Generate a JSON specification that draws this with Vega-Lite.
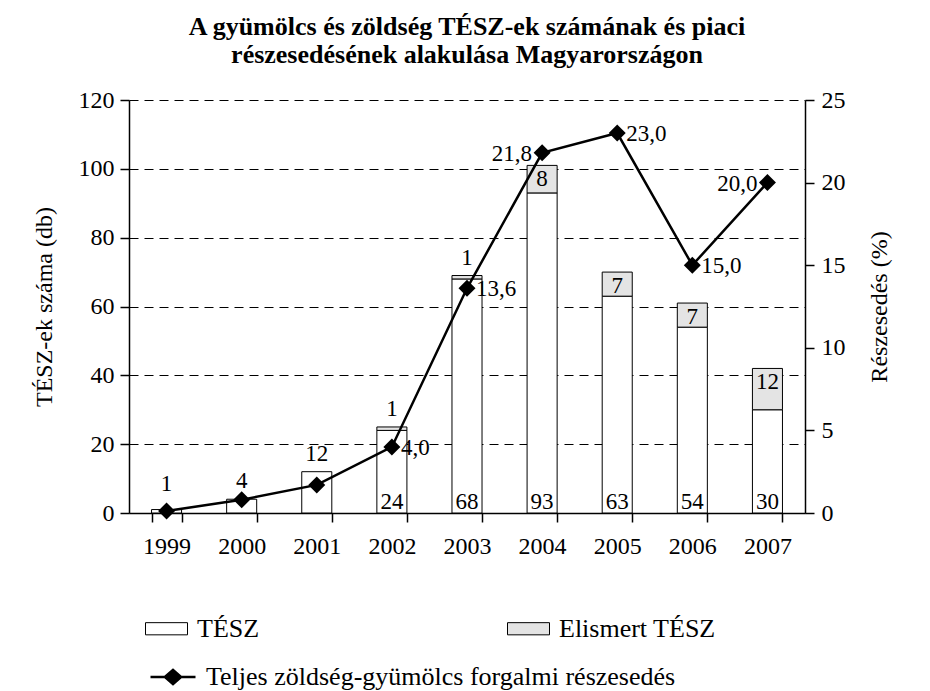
{
  "$schema": "https://vega.github.io/schema/vega-lite/v6.json",
  "autosize": {"type": "none"},
  "width": 676,
  "height": 413,
  "padding": {"left": 129, "top": 100, "right": 125, "bottom": 178},
  "background": "white",
  "title": {
    "text": ["A gyümölcs és zöldség TÉSZ-ek számának és piaci", "részesedésének alakulása Magyarországon"],
    "font": "Liberation Serif",
    "fontSize": 26,
    "fontWeight": "bold",
    "lineHeight": 28,
    "anchor": "middle",
    "offset": 20,
    "color": "black"
  },
  "config": {
    "font": "Liberation Serif",
    "view": {"stroke": null},
    "locale": {"number": {"decimal": ",", "thousands": " ", "grouping": [3], "currency": ["", " Ft"]}},
    "text": {"font": "Liberation Serif", "fontSize": 23, "color": "black"},
    "axis": {
      "labelFont": "Liberation Serif",
      "labelFontSize": 24,
      "labelColor": "black",
      "titleFont": "Liberation Serif",
      "titleFontSize": 24,
      "titleFontWeight": "normal",
      "titleColor": "black",
      "domainColor": "black",
      "domainWidth": 1.5,
      "tickColor": "black",
      "tickWidth": 1.5,
      "tickSize": 9
    },
    "legend": {
      "labelFont": "Liberation Serif",
      "labelFontSize": 26,
      "labelColor": "black",
      "labelLimit": 700,
      "padding": 0
    }
  },
  "datasets": {
    "bars": [
      {"ev": "1999", "tipus": "TÉSZ", "db": 1},
      {"ev": "2000", "tipus": "TÉSZ", "db": 4},
      {"ev": "2001", "tipus": "TÉSZ", "db": 12},
      {"ev": "2002", "tipus": "TÉSZ", "db": 24},
      {"ev": "2002", "tipus": "Elismert TÉSZ", "db": 1},
      {"ev": "2003", "tipus": "TÉSZ", "db": 68},
      {"ev": "2003", "tipus": "Elismert TÉSZ", "db": 1},
      {"ev": "2004", "tipus": "TÉSZ", "db": 93},
      {"ev": "2004", "tipus": "Elismert TÉSZ", "db": 8},
      {"ev": "2005", "tipus": "TÉSZ", "db": 63},
      {"ev": "2005", "tipus": "Elismert TÉSZ", "db": 7},
      {"ev": "2006", "tipus": "TÉSZ", "db": 54},
      {"ev": "2006", "tipus": "Elismert TÉSZ", "db": 7},
      {"ev": "2007", "tipus": "TÉSZ", "db": 30},
      {"ev": "2007", "tipus": "Elismert TÉSZ", "db": 12}
    ],
    "line": [
      {"ev": "1999", "reszesedes": 0.12},
      {"ev": "2000", "reszesedes": 0.8},
      {"ev": "2001", "reszesedes": 1.7},
      {"ev": "2002", "reszesedes": 4.0},
      {"ev": "2003", "reszesedes": 13.6},
      {"ev": "2004", "reszesedes": 21.8},
      {"ev": "2005", "reszesedes": 23.0},
      {"ev": "2006", "reszesedes": 15.0},
      {"ev": "2007", "reszesedes": 20.0}
    ]
  },
  "encoding": {
    "x": {
      "field": "ev",
      "type": "ordinal",
      "scale": {"paddingInner": 0.6, "paddingOuter": 0.3},
      "axis": {
        "title": null,
        "labelAngle": 0,
        "labelPadding": 12,
        "tickBand": "extent",
        "grid": false
      }
    }
  },
  "layer": [
    {
      "data": {"name": "bars"},
      "layer": [
        {
          "mark": {"type": "bar", "stroke": "black", "strokeWidth": 1},
          "encoding": {
            "y": {
              "field": "db",
              "type": "quantitative",
              "stack": "zero",
              "scale": {"domain": [0, 120], "nice": false},
              "axis": {
                "title": "TÉSZ-ek száma (db)",
                "values": [0, 20, 40, 60, 80, 100, 120],
                "grid": true,
                "gridColor": "black",
                "gridDash": [9, 6],
                "gridWidth": 1,
                "labelPadding": 6,
                "titlePadding": 22
              }
            },
            "fill": {
              "field": "tipus",
              "type": "nominal",
              "scale": {"domain": ["TÉSZ", "Elismert TÉSZ"], "range": ["white", "#e4e4e4"]},
              "legend": {
                "title": null,
                "orient": "none",
                "legendX": 16,
                "legendY": 507,
                "direction": "horizontal",
                "columns": 2,
                "columnPadding": 245,
                "symbolType": "M-1,-0.29H1V0.29H-1Z",
                "symbolSize": 1764,
                "symbolStrokeColor": "black",
                "symbolStrokeWidth": 1,
                "labelOffset": 9
              }
            },
            "order": {"field": "tipus", "sort": "descending"}
          }
        },
        {
          "transform": [{"filter": "datum.ev != '1999'"}],
          "mark": {"type": "text", "baseline": "bottom", "dy": -6},
          "encoding": {
            "y": {"field": "db", "type": "quantitative", "stack": "zero"},
            "detail": {"field": "tipus"},
            "order": {"field": "tipus", "sort": "descending"},
            "text": {
              "condition": {
                "test": "(datum.tipus == 'TÉSZ' && toNumber(datum.ev) <= 2001) || (datum.tipus == 'Elismert TÉSZ' && toNumber(datum.ev) <= 2003)",
                "field": "db", "type": "quantitative"
              },
              "value": ""
            }
          }
        },
        {
          "transform": [{"filter": "datum.ev == '1999'"}],
          "mark": {"type": "text", "baseline": "bottom", "dy": -14},
          "encoding": {
            "y": {"field": "db", "type": "quantitative"},
            "text": {"field": "db", "type": "quantitative"}
          }
        },
        {
          "mark": {"type": "text", "baseline": "middle", "dy": 14},
          "encoding": {
            "y": {"field": "db", "type": "quantitative", "stack": "zero"},
            "detail": {"field": "tipus"},
            "order": {"field": "tipus", "sort": "descending"},
            "text": {
              "condition": {
                "test": "datum.tipus == 'Elismert TÉSZ' && toNumber(datum.ev) >= 2004",
                "field": "db", "type": "quantitative"
              },
              "value": ""
            }
          }
        },
        {
          "transform": [{"filter": "datum.tipus == 'TÉSZ' && toNumber(datum.ev) >= 2002"}],
          "mark": {"type": "text", "baseline": "bottom", "dy": 1},
          "encoding": {
            "y": {"datum": 0, "type": "quantitative"},
            "text": {"field": "db", "type": "quantitative"}
          }
        }
      ]
    },
    {
      "data": {"name": "line"},
      "layer": [
        {
          "mark": {"type": "line", "color": "black", "strokeWidth": 2.5},
          "encoding": {
            "y": {
              "field": "reszesedes",
              "type": "quantitative",
              "scale": {"domain": [0, 25], "nice": false},
              "axis": {
                "orient": "right",
                "title": "Részesedés (%)",
                "titleAngle": -90,
                "values": [0, 5, 10, 15, 20, 25],
                "grid": false,
                "labelPadding": 7,
                "titlePadding": 46
              }
            },
            "stroke": {
              "datum": "Teljes zöldség-gyümölcs forgalmi részesedés",
              "scale": {"range": ["black"]},
              "legend": {
                "title": null,
                "orient": "none",
                "legendX": 20,
                "legendY": 553,
                "symbolType": "M-1,0H1M-0.36,0L0,-0.32L0.36,0L0,0.32Z",
                "symbolSize": 2025,
                "symbolStrokeWidth": 2.5,
                "symbolFillColor": "black",
                "labelOffset": 9
              }
            }
          }
        },
        {
          "mark": {"type": "point", "shape": "M0,-1L1,0L0,1L-1,0Z", "size": 289, "filled": true, "color": "black", "opacity": 1},
          "encoding": {
            "y": {"field": "reszesedes", "type": "quantitative"}
          }
        },
        {
          "transform": [{"filter": "datum.ev == '2002' || datum.ev == '2003' || datum.ev == '2005' || datum.ev == '2006'"}],
          "mark": {"type": "text", "align": "left", "baseline": "middle", "dx": 9, "dy": 1},
          "encoding": {
            "y": {"field": "reszesedes", "type": "quantitative"},
            "text": {"field": "reszesedes", "type": "quantitative", "format": ".1f"}
          }
        },
        {
          "transform": [{"filter": "datum.ev == '2004' || datum.ev == '2007'"}],
          "mark": {"type": "text", "align": "right", "baseline": "middle", "dx": -10, "dy": 1},
          "encoding": {
            "y": {"field": "reszesedes", "type": "quantitative"},
            "text": {"field": "reszesedes", "type": "quantitative", "format": ".1f"}
          }
        }
      ]
    }
  ],
  "resolve": {"scale": {"y": "independent"}}
}
